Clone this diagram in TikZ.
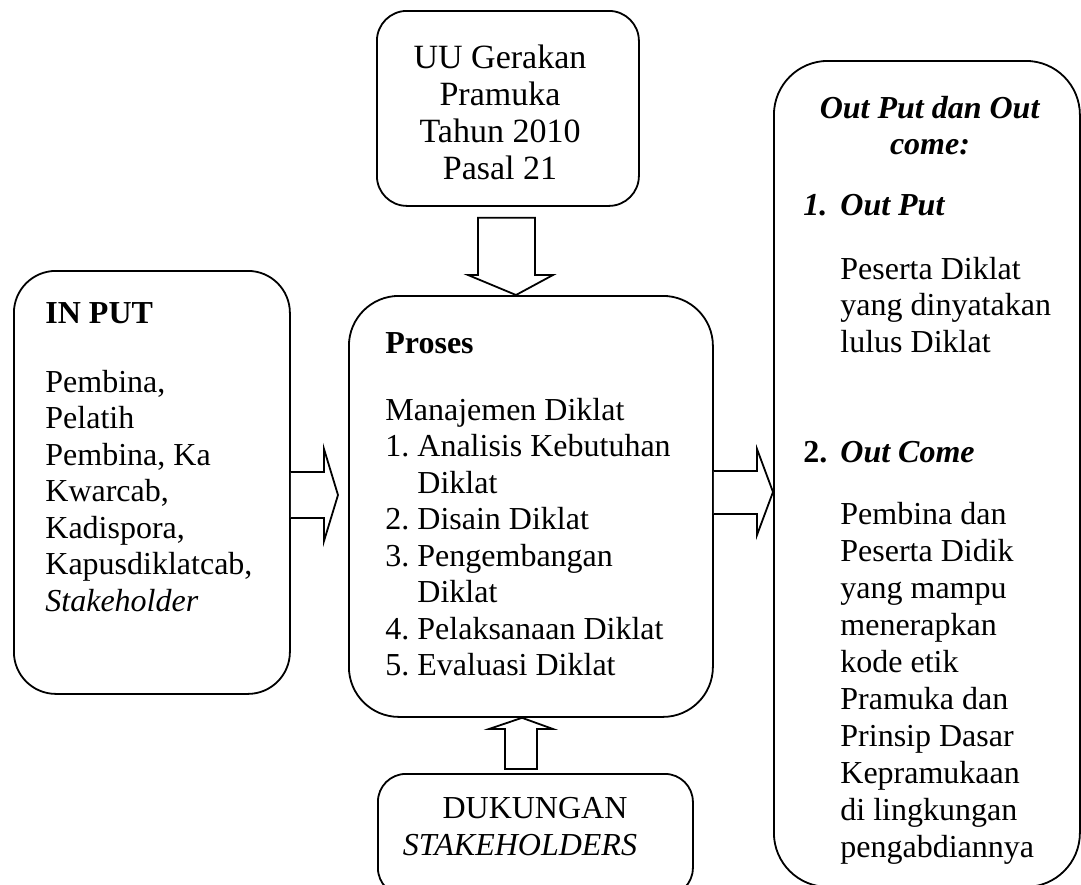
\documentclass[tikz,border=0pt]{standalone}
\usepackage{fontspec}
\setmainfont{Liberation Serif}
\usetikzlibrary{calc}
\newcommand{\numlab}[2]{\makebox[16pt][l]{#1}#2}
\newcommand{\numlabb}[2]{\makebox[18.5pt][l]{#1}#2}
\newcommand{\tabL}[1]{\begin{tabular}[t]{@{}l@{}}#1\end{tabular}}
\newcommand{\tabC}[1]{\begin{tabular}[t]{@{}c@{}}#1\end{tabular}}
\begin{document}
\begin{tikzpicture}[x=0.5pt,y=-0.5pt,
  box/.style={draw, line width=0.9pt, inner sep=0pt, anchor=north west},
  blockarrow/.style={draw, line width=0.9pt, line join=miter, fill=white},
  txt/.style={inner sep=0pt, anchor=base west, font=\fontsize{16pt}{18.25pt}\selectfont},
  ctxt/.style={inner sep=0pt, anchor=base, font=\fontsize{16pt}{18.25pt}\selectfont},
]
\useasboundingbox (0,0) rectangle (1081,884);

% boxes
\node[box, minimum width=131pt, minimum height=97.5pt, rounded corners=15pt] (uu) at (376,10) {};
\node[box, minimum width=138pt, minimum height=211.5pt, rounded corners=21pt] (inbox) at (13,270) {};
\node[box, minimum width=182pt, minimum height=210.5pt, rounded corners=25pt] (proc) at (348,295) {};
\node[box, minimum width=153pt, minimum height=413pt, rounded corners=27pt] (out) at (773,60) {};
\node[box, minimum width=157.5pt, minimum height=61pt, rounded corners=14pt] (duk) at (377,773) {};

% texts
\node[ctxt, font=\fontsize{17pt}{18.65pt}\selectfont] (uut) at (500,68) {\tabC{UU Gerakan\\Pramuka\\Tahun 2010\\Pasal 21}};

\node[txt] (int) at (45,323) {\textbf{IN PUT}};
\node[txt] (inl) at (45,392) {\tabL{Pembina,\\Pelatih\\Pembina, Ka\\Kwarcab,\\Kadispora,\\Kapusdiklatcab,\\\textit{Stakeholder}}};

\node[txt] (prt) at (385,353) {\textbf{Proses}};
\node[txt] (prl) at (385,420) {\tabL{Manajemen Diklat\\
\numlab{1.}{Analisis Kebutuhan}\\
\numlab{}{Diklat}\\
\numlab{2.}{Disain Diklat}\\
\numlab{3.}{Pengembangan}\\
\numlab{}{Diklat}\\
\numlab{4.}{Pelaksanaan Diklat}\\
\numlab{5.}{Evaluasi Diklat}}};

\node[ctxt] (outt) at (930,118) {\tabC{\textbf{\textit{Out Put dan Out}}\\\textbf{\textit{come:}}}};
\node[txt] (o1) at (803,215) {\numlabb{\textbf{\textit{1.}}}{\textbf{\textit{Out Put}}}};
\node[txt, font=\fontsize{16pt}{18.4pt}\selectfont] (o1l) at (840,279) {\tabL{Peserta Diklat\\yang dinyatakan\\lulus Diklat}};
\node[txt] (o2) at (803,462) {\numlabb{\textbf{2.}}{\textbf{\textit{Out Come}}}};
\node[txt, font=\fontsize{16pt}{18.5pt}\selectfont] (o2l) at (840,524) {\tabL{Pembina dan\\Peserta Didik\\yang mampu\\menerapkan\\kode etik\\Pramuka dan\\Prinsip Dasar\\Kepramukaan\\di lingkungan\\pengabdiannya}};

\node[ctxt] (dukt1) at (535,818) {DUKUNGAN};
\node[ctxt] (dukt2) at (520,855) {\textit{STAKEHOLDERS}};

% block arrows
\draw[blockarrow] (inbox.east |- 0,472) -- (324,472) -- (324,449)
  -- ($(proc.west |- 0,495)+(-10,0)$) -- (324,541) -- (324,518) -- (inbox.east |- 0,518);
\draw[blockarrow] (proc.east |- 0,471) -- (757,471) -- (757,449)
  -- (out.west |- 0,492) -- (757,535) -- (757,514) -- (proc.east |- 0,514);
\draw[blockarrow] ($(uu.south -| 478,0)+(0,11)$) -- ($(uu.south -| 535,0)+(0,11)$) -- (535,275) -- (553,275)
  -- (proc.north -| 516,0) -- (468,275) -- (478,275) -- cycle;
\draw[blockarrow] ($(duk.north -| 505,0)+(0,-4)$) -- ($(duk.north -| 537,0)+(0,-4)$) -- (537,729) -- (553,729)
  -- (proc.south -| 522,0) -- (489,729) -- (505,729) -- cycle;
\end{tikzpicture}
\end{document}
